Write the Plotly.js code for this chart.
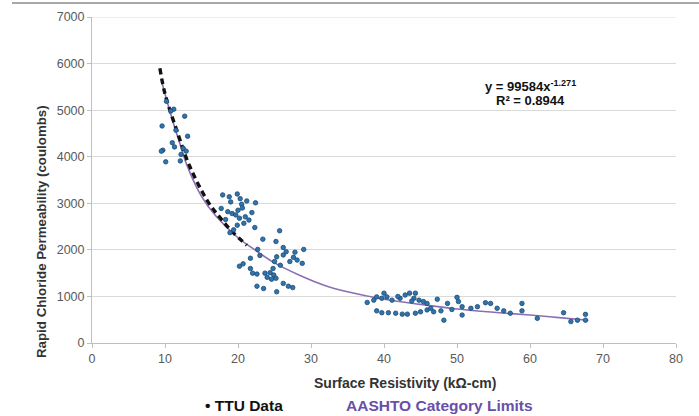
<!DOCTYPE html>
<html>
<head>
<meta charset="utf-8">
<script src="https://cdn.plot.ly/plotly-3.0.1.min.js"></script>
<style>html,body{margin:0;padding:0;background:#fff;}#chart{width:699px;height:416px;}</style>
</head>
<body>
<div id="chart"></div>
<script>
// TTU data (surface resistivity kΩ-cm, RCP coulombs)
const ttuX = [
  10.2, 11.2, 10.8, 12.7, 9.6, 11.5, 13.1, 9.7, 9.5, 11.3, 12.5, 12.9, 10.1, 12.1, 11.0, 12.2,
  17.9, 18.8, 19.9, 20.3, 19.0, 20.5, 22.4, 17.7, 18.6, 19.2, 19.7, 20.2, 21.0, 21.5, 21.9, 20.8, 19.9, 22.3, 19.4, 18.9, 20.6, 21.2, 18.3, 20.0,
  25.7, 23.4, 25.2, 26.2, 29.0, 22.7, 21.7, 25.3, 26.2, 27.6, 27.1, 28.1, 28.8, 25.0, 25.8, 20.2, 20.7, 21.7, 22.0, 22.6, 23.7, 24.4, 24.9, 24.0, 24.6, 25.2, 26.2, 26.9, 27.5, 22.6, 23.5, 25.3, 26.6, 24.8, 27.8, 23.0,
  37.7, 38.6, 39.0, 40.0, 39.7, 40.4, 41.1, 42.2, 42.9, 43.5, 44.3, 44.1, 44.8, 45.4, 45.9, 47.3, 48.7, 50.0, 50.2, 50.7, 51.9, 52.8, 53.9, 54.6, 55.5, 56.4, 57.3, 58.9, 58.9, 61.0, 64.6, 65.6, 66.5, 67.6, 67.6,
  39.0, 39.7, 40.6, 41.6, 42.5, 43.2, 44.3, 45.0, 45.9, 46.4, 48.2, 46.8, 50.7, 47.8, 49.3, 41.9, 43.8
];
const ttuY = [
  5190, 5020, 4980, 4870, 4660, 4570, 4440, 4140, 4120, 4210, 4180, 4120, 3890, 3910, 4300, 4050,
  3180, 3140, 3200, 3100, 3030, 2980, 3010, 2890, 2820, 2780, 2750, 2680, 2710, 2640, 2800, 2570, 2530, 2480, 2430, 2370, 2900, 3050, 2650, 2850,
  2410, 2230, 2180, 2050, 2010, 2010, 1820, 1850, 1890, 1840, 1750, 1780, 1710, 1750, 1670, 1650, 1700, 1600, 1500, 1480, 1500, 1510, 1460, 1410, 1370, 1390, 1280, 1220, 1190, 1220, 1170, 1100, 1960, 1600, 1950, 1880,
  870, 920, 990, 1070, 960, 990, 920, 960, 1030, 1070, 1070, 960, 920, 890, 850, 940, 850, 980, 890, 780, 745, 780, 865, 850, 745, 690, 640, 850, 690, 530, 650, 460, 490, 615, 490,
  690, 650, 650, 640, 620, 620, 640, 670, 710, 745, 490, 670, 600, 690, 720, 1000, 900
];

// Power trend line
const trendX = [9.5, 10, 11, 12, 13, 15, 17, 20, 22.5, 25, 28.5, 32, 35, 40, 45, 50, 55, 60, 64, 68];
const trendY = [5650, 5350, 4800, 4300, 3820, 3150, 2720, 2260, 1980, 1720, 1450, 1230, 1100, 940, 830, 730, 660, 600, 545, 490];

// AASHTO category limits (dashed)
const limitX = [9.3, 10.0, 11.6, 13.4, 15.9, 17.6, 19.2, 21.2];
const limitY = [5900, 5350, 4570, 3790, 3030, 2680, 2390, 2100];

const xTicks = [0, 10, 20, 30, 40, 50, 60, 70, 80];
const yTicks = [0, 1000, 2000, 3000, 4000, 5000, 6000, 7000];

const eqLine1 = "y = 99584x<sup>-1.271</sup>";
const eqLine2 = "R² = 0.8944";
const xTitle = "Surface Resistivity (kΩ-cm)";
const yTitle = "Rapid Chloride Permeability (coulombs)";
const legendA = "TTU Data";
const legendB = "AASHTO Category Limits";

const FONT = "Liberation Sans, Arial, sans-serif";
// pixel helpers for paper coordinates (plot area 92..676 x 17..343)
const px = v => (v - 92) / 584;
const py = v => (343 - v) / 326;

const traces = [
  {x: trendX, y: trendY, mode: "lines", line: {color: "#8a6fb5", width: 1.6, shape: "spline"}, hoverinfo: "skip"},
  {x: limitX, y: limitY, mode: "lines", line: {color: "#111111", width: 3.4, dash: "6px,4px", shape: "spline"}, hoverinfo: "skip"},
  {x: ttuX, y: ttuY, mode: "markers", marker: {color: "#2f74ad", size: 4.5, line: {color: "#1d4a73", width: 0.8}}}
];

const ann = (x, y, text, size, color, extra) => Object.assign({
  xref: "paper", yref: "paper", x: px(x), y: py(y), xanchor: "center", yanchor: "middle",
  showarrow: false, text: text, font: {family: FONT, size: size, color: color}
}, extra || {});

const layout = {
  width: 699, height: 416,
  margin: {l: 92, r: 23, t: 17, b: 73},
  paper_bgcolor: "#ffffff", plot_bgcolor: "#ffffff",
  showlegend: false,
  font: {family: FONT, size: 12, color: "#595959"},
  xaxis: {
    range: [0, 80], tickvals: xTicks, ticktext: xTicks.map(String),
    showgrid: false, zeroline: false, showline: true, linecolor: "#bfbfbf", linewidth: 1,
    ticks: "outside", ticklen: 4, tickcolor: "#bfbfbf",
    tickfont: {family: FONT, size: 12.5, color: "#595959"}
  },
  yaxis: {
    range: [0, 7000], tickvals: yTicks, ticktext: yTicks.map(String),
    showgrid: true, gridcolor: "#d9d9d9", gridwidth: 1, zeroline: false,
    showline: true, linecolor: "#bfbfbf", linewidth: 1,
    ticks: "outside", ticklen: 4, tickcolor: "#bfbfbf",
    tickfont: {family: FONT, size: 12.5, color: "#595959"}
  },
  shapes: [
    {type: "line", xref: "paper", yref: "paper", x0: px(12), x1: px(699), y0: py(3), y1: py(3), line: {color: "#a8a8a8", width: 2}},
    {type: "line", xref: "paper", yref: "y", x0: 0, x1: 1, y0: 7000, y1: 7000, line: {color: "#d9d9d9", width: 1}}
  ],
  annotations: [
    ann(530, 86, "<b>" + eqLine1 + "</b>", 13, "#111111"),
    ann(530, 101, "<b>" + eqLine2 + "</b>", 13, "#111111"),
    ann(41, 232, "<b>" + yTitle + "</b>", 13.3, "#333333", {textangle: -90}),
    ann(405, 383, "<b>" + xTitle + "</b>", 14, "#333333"),
    ann(203, 405, "<b>• " + legendA + "</b>", 15.5, "#111111", {xanchor: "left"}),
    ann(344, 405, "<b>" + legendB + "</b>", 15.5, "#6a4fa8", {xanchor: "left"})
  ]
};

Plotly.newPlot("chart", traces, layout, {displayModeBar: false, staticPlot: true});
</script>
</body>
</html>
